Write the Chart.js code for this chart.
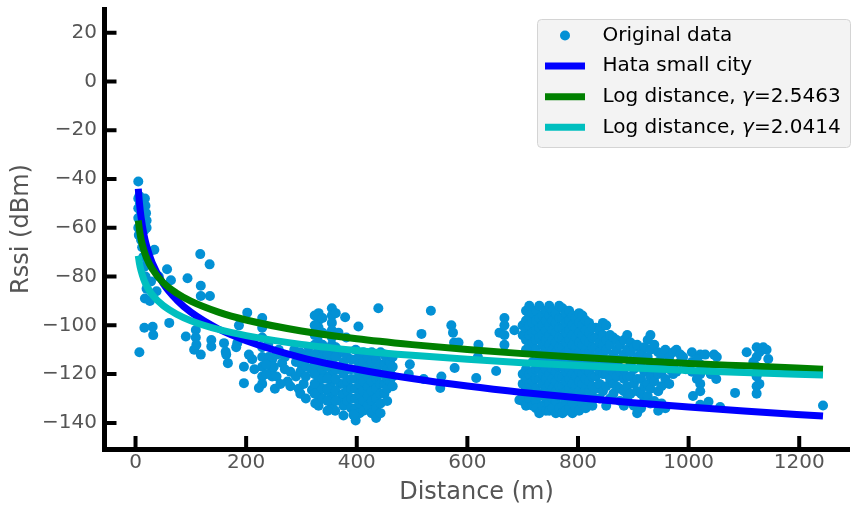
<!DOCTYPE html>
<html>
<head>
<meta charset="utf-8">
<script src="https://cdn.jsdelivr.net/npm/chart.js@4.4.1/dist/chart.umd.min.js"></script>
<style>
  html, body { margin: 0; padding: 0; background: #fff; }
  canvas { display: block; }
</style>
</head>
<body>
<canvas id="rssiChart" width="854" height="506"></canvas>
<script>
const xTicks = [0, 200, 400, 600, 800, 1000, 1200];
const yTicks = [20, 0, -20, -40, -60, -80, -100, -120, -140];

const seriesLabels = ['Original data', 'Hata small city', 'Log distance, γ=2.5463', 'Log distance, γ=2.0414'];
const seriesColors = ['#0391d5', '#0000ff', '#008000', '#00bfbf'];

// fitted model curves
const fitDistance = [5, 7, 10, 15, 20, 30, 50, 75, 100, 150, 200, 300, 400, 500, 600, 700, 800, 900, 1000, 1100, 1243];
const hataSmallCity = [-44, -49.7, -55.7, -62.6, -67.4, -74.3, -82.9, -89.7, -94.6, -101.5, -106.3, -113.2, -118.0, -121.8, -124.9, -127.5, -129.7, -131.7, -133.5, -135.1, -137.2];
const logDistanceA = [-57, -60.7, -64.7, -69.1, -72.3, -76.8, -82.5, -86.9, -90.1, -94.6, -97.8, -102.3, -105.5, -107.9, -109.9, -111.6, -113.1, -114.4, -115.6, -116.6, -118.0];
const logDistanceB = [-71.5, -74.5, -77.6, -81.2, -83.8, -87.4, -91.9, -95.5, -98.1, -101.7, -104.2, -107.8, -110.3, -112.3, -113.9, -115.3, -116.5, -117.5, -118.5, -119.3, -120.4];

// measured points [distance m, rssi dBm]
const measured = [
  // close to the gateway
  [5,-48],[5,-52],[5,-56],[5,-60],[6,-63],[5,-41],[7,-47],[8,-50],[9,-53],[10,-57],
  [12,-49],[13,-52],[14,-55],[15,-58],[16,-61],[17,-48],[18,-51],[19,-54],[20,-57],[20,-60],
  [10,-65],[12,-68],[14,-72],[16,-76],[18,-80],[20,-85],[17,-89],[22,-75],[25,-70],[28,-82],
  [34,-69],[31,-100.6],[32,-104],[16,-101],[7,-111],[26,-90],[38,-86],[42,-80],
  // 50 - 320 m
  [57,-77],[64,-81.5],[61,-99],[94,-80.7],[117,-70.8],[134,-75],[118,-83.8],[118,-88],[134.5,-88],
  [91,-104.6],[109,-101.9],[109,-105],[106,-110],[118,-112],[110,-108],[137,-106],[137,-108.7],
  [160,-107.3],[163,-110.8],[167,-115.5],[164,-112],[184,-107.3],[182,-109],[196,-117],[196,-123.7],
  [211,-113.9],[202,-94.8],[187,-100],[229,-97],[229,-101],[229,-105],[229,-109],[229,-113],
  [229,-117],[229,-121],[229,-124],[223,-125.7],[247,-114],[247,-118],[247,-121],[241,-113],
  [259,-110],[265,-115.5],[250,-117],[280,-119],[280,-125],[301,-117],[304,-124],[313,-109],[319,-126.5],
  [236,-116],[236,-120],[255,-112],[255,-121],[270,-113],[270,-118],[275,-123],[290,-115],[290,-121],
  [295,-126],[287,-110],[240,-108],[252,-126],[262,-124],[215,-118],[205,-112],[210,-106],
  // 290 - 470 m
  [298,-111],[298,-115],[298,-119],[298,-128],[308,-112],[308,-117],[308,-121],[308,-130],
  [331,-95],[331,-98],[331,-101],[331,-104],[331,-107],[331,-110],[331,-113],[331,-116],[331,-119],
  [331,-122],[331,-125],[331,-128],[331,-131],[331,-133],
  [355,-93],[355,-96],[355,-99],[355,-102],[355,-105],[355,-108],[355,-111],[355,-114],[355,-117],
  [355,-120],[355,-123],[355,-126],[355,-129],[355,-132],
  [315,-112],[318,-118],[322,-126],[325,-132],[340,-110],[342,-116],[345,-121],[348,-127],[361,-135],
  [365,-112],[368,-118],[370,-124],[372,-130],
  [324,-96],[324,-100],[324,-104],[324,-108],[324,-112],[324,-116],[324,-120],[324,-124],[324,-128],
  [338,-97],[338,-103],[338,-108],[338,-113],[338,-118],[338,-122],[338,-126],[338,-130],
  [347,-112],[347,-117],[347,-122],[347,-126],[347,-131],[347,-135],
  [362,-95],[362,-109],[362,-113],[362,-118],[362,-122],[362,-127],[362,-131],
  [376,-111],[376,-115],[376,-120],[376,-124],[376,-128],[376,-133],[376,-137],
  [383,-113],[383,-118],[383,-123],[383,-127],[383,-131],
  [379,-96.7],[403,-100.5],[439,-93],[367,-103],[381,-105],
  [390,-114],[390,-118],[390,-122],[390,-126],[390,-130],[390,-134],
  [398,-110],[398,-114],[398,-118],[398,-122],[398,-126],[398,-130],[398,-134],[398,-139],
  [405,-112],[405,-116],[405,-120],[405,-124],[405,-128],[405,-132],[405,-136],
  [412,-111],[412,-115],[412,-119],[412,-123],[412,-127],[412,-131],[412,-135],
  [420,-113],[420,-117],[420,-121],[420,-125],[420,-129],[420,-133],
  [427,-111],[427,-115],[427,-119],[427,-123],[427,-127],[427,-131],[427,-136],
  [435,-114],[435,-118],[435,-122],[435,-126],[435,-130],[435,-134],[435,-138],
  [443,-111],[443,-116],[443,-120],[443,-124],[443,-128],[443,-132],[443,-136],
  [450,-112],[450,-116],[450,-120],[450,-124],[450,-128],
  [455,-114],[455,-118],[455,-122],[455,-126],[455,-131],
  [460,-115],[460,-119],[460,-123],[465,-113],[465,-117],[465,-121],[465,-125],[394,-136.7],
  // 490 - 660 m
  [496,-116],[494,-120],[517,-103.5],[521,-122],[534,-94],[551,-125.7],[553,-121],[571,-100],
  [574,-103],[576,-107],[577,-117.5],[584,-107],[616,-121.6],[620,-108],[619,-113],[652,-118.7],
  // 660 - 990 m
  [658,-103],[667,-97],[667,-100],[667,-104],[667,-108],[685,-102],[694,-130.6],
  [700,-100],[700,-104],[700,-120],[700,-124],[700,-128],[700,-131],
  [706,-94],[706,-98],[706,-102],[706,-106],[706,-110],[706,-118],[706,-122],[706,-126],[706,-133],
  [712,-92],[712,-96],[712,-100],[712,-104],[712,-108],[712,-120],[712,-124],[712,-130],
  [718,-95],[718,-99],[718,-103],[718,-107],[718,-111],[718,-115],[718,-119],[718,-123],[718,-127],[718,-133],
  [724,-94],[724,-98],[724,-102],[724,-106],[724,-110],[724,-118],[724,-122],[724,-126],[724,-131],[724,-134],
  [730,-92],[730,-97],[730,-101],[730,-105],[730,-114],[730,-118],[730,-122],[730,-129],[730,-136],
  [736,-96],[736,-100],[736,-104],[736,-108],[736,-112],[736,-116],[736,-120],[736,-124],[736,-128],[736,-133],
  [742,-94],[742,-98],[742,-102],[742,-106],[742,-110],[742,-114],[742,-118],[742,-122],[742,-126],[742,-130],[742,-135],
  [748,-92],[748,-96],[748,-100],[748,-104],[748,-108],[748,-112],[748,-116],[748,-120],[748,-124],[748,-128],[748,-132],[748,-135],
  [754,-94],[754,-98],[754,-102],[754,-106],[754,-110],[754,-114],[754,-118],[754,-122],[754,-126],[754,-130],[754,-134],
  [760,-95],[760,-99],[760,-103],[760,-107],[760,-111],[760,-115],[760,-119],[760,-123],[760,-127],[760,-131],[760,-136],
  [766,-92],[766,-97],[766,-101],[766,-105],[766,-109],[766,-113],[766,-117],[766,-121],[766,-125],[766,-129],[766,-134],
  [772,-93],[772,-97],[772,-101],[772,-105],[772,-109],[772,-113],[772,-117],[772,-121],[772,-125],[772,-129],[772,-133],[772,-136],
  [778,-95],[778,-99],[778,-103],[778,-107],[778,-111],[778,-115],[778,-119],[778,-123],[778,-127],[778,-131],[778,-135],
  [784,-94],[784,-98],[784,-102],[784,-106],[784,-110],[784,-114],[784,-118],[784,-122],[784,-126],[784,-130],[784,-134],
  [790,-96],[790,-100],[790,-104],[790,-108],[790,-112],[790,-116],[790,-120],[790,-124],[790,-128],[790,-132],[790,-136],
  [796,-97],[796,-101],[796,-105],[796,-109],[796,-113],[796,-117],[796,-121],[796,-125],[796,-129],[796,-134],
  [802,-95],[802,-99],[802,-103],[802,-107],[802,-111],[802,-115],[802,-119],[802,-123],[802,-127],[802,-131],[802,-135],
  [808,-96],[808,-100],[808,-104],[808,-108],[808,-112],[808,-116],[808,-120],[808,-124],[808,-128],[808,-132],
  [814,-98],[814,-102],[814,-106],[814,-110],[814,-114],[814,-118],[814,-122],[814,-126],[814,-130],[814,-134],
  [820,-99],[820,-103],[820,-107],[820,-111],[820,-115],[820,-119],[820,-123],[820,-127],[820,-131],
  [826,-101],[826,-105],[826,-109],[826,-113],[826,-117],[826,-121],[826,-125],[826,-129],[826,-133],
  [832,-101],[832,-105],[832,-109],[832,-113],[832,-117],[832,-121],[832,-126],
  [839,-102],[839,-107],[839,-111],[839,-115],[839,-119],[839,-124],[839,-130],
  [845,-99],[845,-104],[845,-108],[845,-112],[845,-116],[845,-120],[845,-127],
  [851,-100],[851,-106],[851,-110],[851,-116],[851,-120],[851,-125],[851,-133],
  [858,-104],[858,-108],[858,-114],[858,-118],[858,-122],[858,-130],
  [864,-105],[864,-112],[864,-119],[864,-124],[864,-128],
  [870,-106],[870,-110],[870,-116],[870,-121],[870,-125],
  [876,-108],[876,-114],[876,-119],[876,-126],[876,-131],
  [883,-106],[883,-112],[883,-118],[883,-122],[883,-127],[883,-133],
  [889,-104],[889,-110],[889,-121],[889,-125],[889,-130],
  [895,-107],[895,-111],[895,-116],[895,-121],[895,-128],
  [901,-109],[901,-118],[901,-124],[901,-133],
  [907,-108],[907,-113],[907,-122],[907,-127],[907,-136],
  [914,-111],[914,-117],[914,-122],[914,-128],[914,-134],
  [920,-109],[920,-114],[920,-119],[920,-125],[920,-130],
  [926,-106],[926,-113],[926,-119],[926,-124],[926,-129],
  [931,-104],[931,-110],[931,-116],[931,-121],[931,-126],[931,-132],
  [938,-108],[938,-118],[938,-123],[938,-131],
  [945,-111],[945,-115],[945,-120],[945,-127],[945,-135],
  [951,-112],[951,-119],[951,-125],[951,-132],
  [958,-110],[958,-116],[958,-122],[958,-134],
  [965,-113],[965,-118],[965,-124],
  [972,-111],[972,-117],[972,-120],[978,-110],[978,-119],[985,-112],[985,-115],
  // 1000 m and beyond
  [1006,-111],[1006,-115],[1006,-119],[1008,-129],[1021,-112],[1021,-116],[1021,-120],[1021,-124],
  [1021,-127],[1021,-132.6],[1036,-131.3],[1046,-112],[1051,-113],[1050,-122],[1057,-133.5],
  [1015,-114],[1015,-122],[1028,-118],[1030,-112],[1040,-120],
  [1084,-127.7],[1105,-111],[1123,-109],[1123,-113],[1123,-117],[1123,-121],[1123,-125],[1123,-128],
  [1117,-115],[1128,-111],[1128,-119],[1128,-124],
  [1135,-109],[1141,-110],[1144,-113.8],[990,-113],[995,-118],[1243,-132.9]
];

function toXY(xs, ys) {
  return xs.map((x, i) => ({ x: x, y: ys[i] }));
}

function minusSign(v) {
  return v < 0 ? '\u2212' + Math.abs(v) : String(v);
}

// matplotlib style ticks pointing into the axes
const innerTicks = {
  id: 'innerTicks',
  afterDraw(chart) {
    const { ctx, chartArea, scales } = chart;
    ctx.save();
    ctx.strokeStyle = '#000';
    ctx.lineWidth = 4;
    ctx.beginPath();
    yTicks.forEach(v => {
      const py = scales.y.getPixelForValue(v);
      ctx.moveTo(chartArea.left, py);
      ctx.lineTo(chartArea.left + 12.5, py);
    });
    xTicks.forEach(v => {
      const px = scales.x.getPixelForValue(v);
      ctx.moveTo(px, chartArea.bottom);
      ctx.lineTo(px, chartArea.bottom - 13);
    });
    ctx.stroke();
    ctx.restore();
  }
};

const boxLegend = {
  id: 'boxLegend',
  afterDraw(chart) {
    const ctx = chart.ctx;
    ctx.save();
    ctx.beginPath();
    ctx.roundRect(537.5, 19.5, 313, 128, 4);
    ctx.fillStyle = 'rgba(242,242,242,0.95)';
    ctx.fill();
    ctx.strokeStyle = '#d4d4d4';
    ctx.lineWidth = 1;
    ctx.stroke();

    ctx.textBaseline = 'middle';
    ctx.textAlign = 'left';
    seriesLabels.forEach((label, i) => {
      const y = 35.5 + i * 30.6;
      if (i === 0) {
        ctx.beginPath();
        ctx.arc(565, y, 5, 0, Math.PI * 2);
        ctx.fillStyle = seriesColors[0];
        ctx.fill();
      } else {
        ctx.beginPath();
        ctx.moveTo(545, y);
        ctx.lineTo(585, y);
        ctx.strokeStyle = seriesColors[i];
        ctx.lineWidth = 7;
        ctx.stroke();
      }
      ctx.fillStyle = '#000';
      const parts = label.split('γ');
      let x = 602.5;
      ctx.font = '20px "DejaVu Sans"';
      ctx.fillText(parts[0], x, y);
      x += ctx.measureText(parts[0]).width;
      if (parts.length > 1) {
        ctx.font = 'italic 20px "DejaVu Sans"';
        ctx.fillText('γ', x, y);
        x += ctx.measureText('γ').width;
        ctx.font = '20px "DejaVu Sans"';
        ctx.fillText(parts[1], x, y);
      }
    });
    ctx.restore();
  }
};

Chart.defaults.font.family = '"DejaVu Sans"';

const lineBase = {
  showLine: true,
  pointRadius: 0,
  borderWidth: 7,
  cubicInterpolationMode: 'monotone',
  borderCapStyle: 'butt'
};

new Chart(document.getElementById('rssiChart'), {
  type: 'scatter',
  data: {
    datasets: [
      Object.assign({}, lineBase, { label: seriesLabels[3], data: toXY(fitDistance, logDistanceB), borderColor: seriesColors[3], order: 1 }),
      Object.assign({}, lineBase, { label: seriesLabels[2], data: toXY(fitDistance, logDistanceA), borderColor: seriesColors[2], order: 2 }),
      Object.assign({}, lineBase, { label: seriesLabels[1], data: toXY(fitDistance, hataSmallCity), borderColor: seriesColors[1], order: 3 }),
      {
        label: seriesLabels[0],
        data: measured.map(p => ({ x: p[0], y: p[1] })),
        backgroundColor: seriesColors[0],
        pointRadius: 5,
        pointBorderWidth: 0,
        order: 4
      }
    ]
  },
  options: {
    responsive: false,
    devicePixelRatio: 1,
    animation: false,
    layout: { padding: { top: 9, right: 2, left: 0, bottom: 0 } },
    plugins: { legend: { display: false }, tooltip: { enabled: false } },
    scales: {
      x: {
        type: 'linear',
        min: -57,
        max: 1290,
        afterFit: s => { s.height = 57; s.paddingLeft = 0; s.paddingRight = 0; },
        afterBuildTicks: s => { s.ticks = xTicks.map(v => ({ value: v })); },
        grid: { display: false, drawTicks: false },
        border: { display: true, color: '#000', width: 5 },
        ticks: { color: '#555', font: { size: 20 }, padding: 2, maxRotation: 0, callback: v => minusSign(v) },
        title: { display: true, text: 'Distance (m)', color: '#555', font: { size: 24, lineHeight: 1.0 }, padding: { top: 0, bottom: 1 } }
      },
      y: {
        type: 'linear',
        min: -150.7,
        max: 29.7,
        afterFit: s => { s.width = 104; s.paddingTop = 0; s.paddingBottom = 0; },
        afterBuildTicks: s => { s.ticks = yTicks.map(v => ({ value: v })); },
        grid: { display: false, drawTicks: false },
        border: { display: true, color: '#000', width: 5 },
        ticks: { color: '#555', font: { size: 20 }, padding: 7, callback: v => minusSign(v) },
        title: { display: true, text: 'Rssi (dBm)', color: '#555', font: { size: 24 }, padding: { top: 7, bottom: 0 } }
      }
    }
  },
  plugins: [innerTicks, boxLegend]
});
</script>
</body>
</html>
